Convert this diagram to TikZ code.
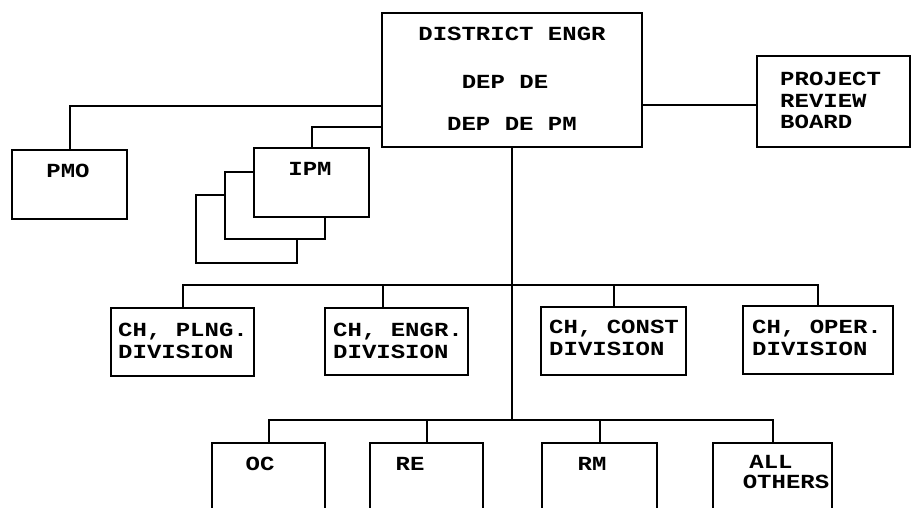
\documentclass[tikz,border=0pt]{standalone}
\usepackage{fontspec}
\newfontfamily\cour{Liberation Mono}[FakeStretch=1.2]
\begin{document}
\begin{tikzpicture}[x=1pt,y=-1pt,
  bx/.style={draw=black, line width=2pt, fill=white, inner sep=0pt},
  lbl/.style={font=\cour\bfseries\fontsize{20}{22}\selectfont, inner sep=0pt, text=black},
  ln/.style={draw=black, line width=2pt, line cap=rect}]
\useasboundingbox (0,0) rectangle (913,507);
\clip (0,0) rectangle (913,507);
% boxes
\node[bx, minimum width=260pt, minimum height=134pt] (dist) at (512,80) {};
\node[bx, minimum width=153pt, minimum height=91pt] (prb) at (833.5,101.5) {};
\node[bx, minimum width=115pt, minimum height=69pt] (pmo) at (69.5,184.5) {};
\node[bx, minimum width=101pt, minimum height=68pt] (ipmc) at (246.5,229) {};
\node[bx, minimum width=100pt, minimum height=67pt] (ipmb) at (275,205.5) {};
\node[bx, minimum width=115pt, minimum height=69pt] (ipm) at (311.5,182.5) {};
\node[bx, minimum width=143pt, minimum height=68pt] (plng) at (182.5,342) {};
\node[bx, minimum width=143pt, minimum height=67pt] (engr) at (396.5,341.5) {};
\node[bx, minimum width=145pt, minimum height=68pt] (const) at (613.5,341) {};
\node[bx, minimum width=150pt, minimum height=68pt] (oper) at (818,340) {};
\node[bx, minimum width=113pt, minimum height=87pt] (oc) at (268.5,486.5) {};
\node[bx, minimum width=113pt, minimum height=87pt] (re) at (426.5,486.5) {};
\node[bx, minimum width=115pt, minimum height=87pt] (rm) at (599.5,486.5) {};
\node[bx, minimum width=119pt, minimum height=87pt] (all) at (772.5,486.5) {};
% texts
\node[lbl, anchor=base] (t1) at (512,40) {DISTRICT ENGR};
\node[lbl, anchor=base] (t2) at (505,88) {DEP DE};
\node[lbl, anchor=base] (t3) at (512,130) {DEP DE PM};
\node[lbl, anchor=base west] (p1) at (780,85) {PROJECT};
\node[lbl, anchor=base west] (p2) at (780,107) {REVIEW};
\node[lbl, anchor=base west] (p3) at (780,128) {BOARD};
\node[lbl, anchor=base] (tpmo) at (68,177) {PMO};
\node[lbl, anchor=base] (tipm) at (310,175) {IPM};
\node[lbl, anchor=base west] (a1) at (118,336) {CH, PLNG.};
\node[lbl, anchor=base west] (a2) at (118,358) {DIVISION};
\node[lbl, anchor=base west] (b1t) at (333,336) {CH, ENGR.};
\node[lbl, anchor=base west] (b2t) at (333,358) {DIVISION};
\node[lbl, anchor=base west] (c1) at (549,333) {CH, CONST};
\node[lbl, anchor=base west] (c2) at (549,355) {DIVISION};
\node[lbl, anchor=base west] (d1) at (752,333) {CH, OPER.};
\node[lbl, anchor=base west] (d2) at (752,355) {DIVISION};
\node[lbl, anchor=base] (toc) at (260,470) {OC};
\node[lbl, anchor=base] (tre) at (410,470) {RE};
\node[lbl, anchor=base] (trm) at (592,470) {RM};
\node[lbl, anchor=base] (tall) at (771,468) {ALL};
\node[lbl, anchor=base] (toth) at (786,488) {OTHERS};
% connectors
\coordinate (bus1) at (512,285);
\coordinate (bus2) at (512,420);
\draw[ln] ([yshift=-26pt]dist.west) -| (pmo.north);
\draw[ln] ([yshift=-47pt]dist.west) -| (ipm.north);
\draw[ln] ([yshift=-25pt]dist.east) -- ([yshift=-25pt]dist.east -| prb.west);
\draw[ln] (dist.south) -- (bus2);
\draw[ln] (plng.north) |- (bus1) -| (oper.north);
\draw[ln] ([xshift=-13.5pt]engr.north) -- ([xshift=-13.5pt]engr.north |- bus1);
\draw[ln] (const.north) -- (const.north |- bus1);
\draw[ln] (oc.north) |- (bus2) -| (all.north);
\draw[ln] (re.north) -- (re.north |- bus2);
\draw[ln] (rm.north) -- (rm.north |- bus2);
\end{tikzpicture}
\end{document}
